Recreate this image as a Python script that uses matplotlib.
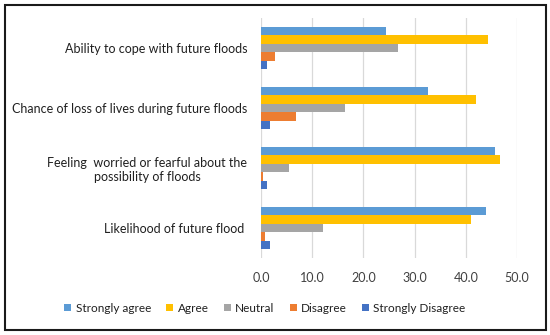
import matplotlib
matplotlib.use("Agg")
import matplotlib.pyplot as plt
import matplotlib.patches as patches
import numpy as np

plt.rcParams['font.family'] = ['Lato', 'DejaVu Sans']

categories = ["Ability to cope with future floods",
              "Chance of loss of lives during future floods",
              "Feeling  worried or fearful about the\npossibility of floods",
              "Likelihood of future flood "]
series = ["Strongly agree", "Agree", "Neutral", "Disagree", "Strongly Disagree"]
strongly_agree = [24.4, 32.6, 45.7, 43.9]
agree = [44.4, 42.0, 46.7, 41.1]
neutral = [26.8, 16.4, 5.5, 12.1]
disagree = [2.7, 6.9, 0.3, 0.8]
strongly_disagree = [1.2, 1.8, 1.2, 1.8]
values = [strongly_agree, agree, neutral, disagree, strongly_disagree]
colors = ["#5B9BD5", "#FFC000", "#A5A5A5", "#ED7D31", "#4472C4"]
xticks = [0, 10, 20, 30, 40, 50]

W, H = 550, 335
fig = plt.figure(figsize=(W / 100, H / 100), dpi=100)
ax = fig.add_axes([261 / W, (H - 258) / H, (517 - 261) / W, (258 - 18) / H])

y = np.arange(len(categories))
h = 0.143
for k, (name, vals, c) in enumerate(zip(series, values, colors)):
    ax.barh(y + (k - 2) * h, vals, height=h, color=c, label=name, zorder=3)

ax.set_ylim(len(categories) - 0.5, -0.5)
ax.set_xlim(0, 50)
ax.set_xticks(xticks)
ax.set_xticklabels([f"{t:.1f}" for t in xticks], fontsize=9, color="#404040")
ax.set_yticks(y)
ax.set_yticklabels(categories, fontsize=9, color="#202020", ha="right", multialignment="center")
ax.tick_params(axis="y", length=0, pad=10)
ax.tick_params(axis="x", length=0, pad=10)
ax.grid(axis="x", color="#D9D9D9", lw=0.9, zorder=0)
for s in ax.spines.values():
    s.set_visible(False)

fig.legend(loc="center", bbox_to_anchor=(265 / W, (H - 308) / H), ncol=5, frameon=False,
           fontsize=8.5, handlelength=0.6, handleheight=0.6, handletextpad=0.35, columnspacing=1.3,
           labelcolor="#202020")

fig.add_artist(patches.Rectangle((5 / W, 5 / H), 541 / W, 325 / H, transform=fig.transFigure,
                                 fill=False, edgecolor="#1a1a1a", lw=1.5))

fig.savefig("out.png", dpi=100)
